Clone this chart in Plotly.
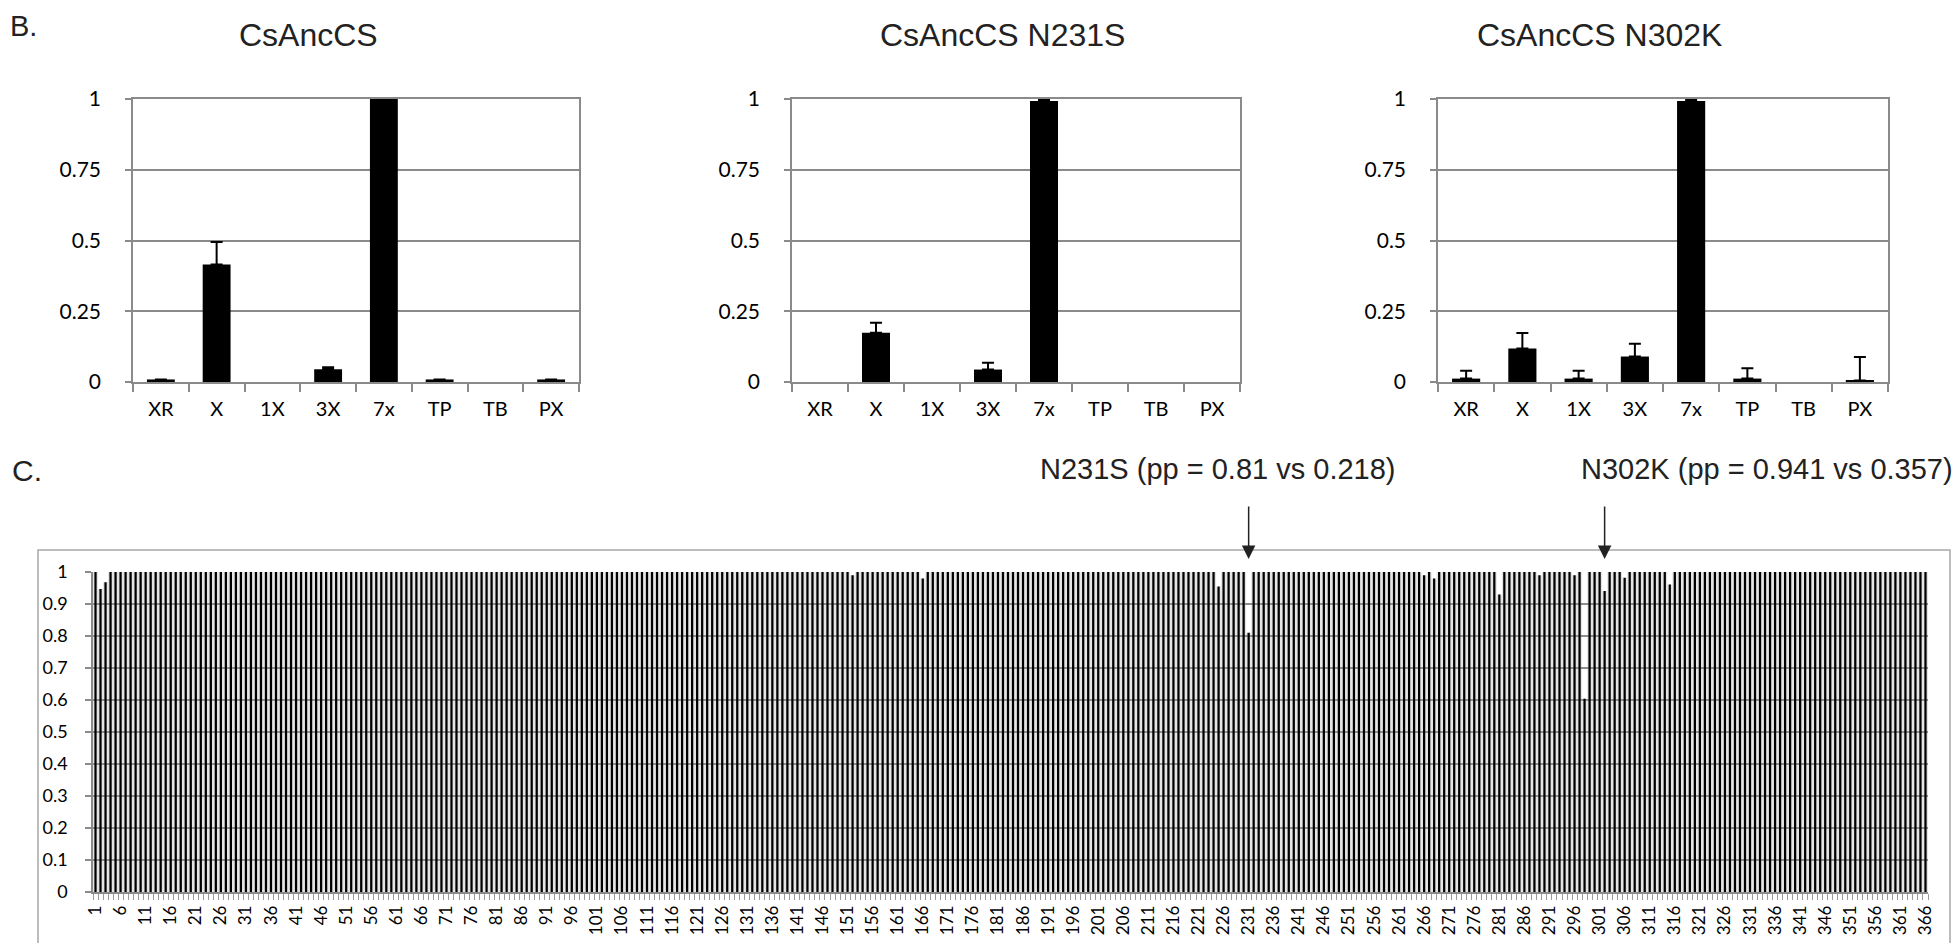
import plotly.graph_objects as go

# ---------------- Panel B data ----------------
categories = ["XR", "X", "1X", "3X", "7x", "TP", "TB", "PX"]

anccs_vals = [0.009, 0.415, 0.0, 0.045, 1.0, 0.009, 0.0, 0.009]
anccs_err = [0.0, 0.080, 0.0, 0.007, 0.0, 0.0, 0.0, 0.0]

n231s_vals = [0.0, 0.174, 0.0, 0.044, 0.993, 0.0, 0.0, 0.0]
n231s_err = [0.0, 0.035, 0.0, 0.024, 0.007, 0.0, 0.0, 0.0]

n302k_vals = [0.012, 0.118, 0.012, 0.090, 0.993, 0.012, 0.0, 0.005]
n302k_err = [0.028, 0.055, 0.028, 0.045, 0.007, 0.037, 0.0, 0.083]

panel_titles = ["CsAncCS", "CsAncCS N231S", "CsAncCS N302K"]
b_ticks = [0, 0.25, 0.5, 0.75, 1]
b_ticktext = ["0", "0.25", "0.5", "0.75", "1"]

# ---------------- Panel C data ----------------
positions = list(range(1, 367))
pp_values = [
    1, 0.947, 0.968, 1, 1, 1, 1, 1, 1, 1, 1, 1, 1, 1, 1, 1, 1, 1, 1, 1,          # 1-20
    1, 1, 1, 1, 1, 1, 1, 1, 1, 1, 1, 1, 1, 1, 1, 1, 1, 1, 1, 1,                  # 21-40
    1, 1, 1, 1, 1, 1, 1, 1, 1, 1, 1, 1, 1, 1, 1, 1, 1, 1, 1, 1,                  # 41-60
    1, 1, 1, 1, 1, 1, 1, 1, 1, 1, 1, 1, 1, 1, 1, 1, 1, 1, 1, 1,                  # 61-80
    1, 1, 1, 1, 1, 1, 1, 1, 1, 1, 1, 1, 1, 1, 1, 1, 1, 1, 1, 1,                  # 81-100
    1, 1, 1, 1, 1, 1, 1, 1, 1, 1, 1, 1, 1, 1, 1, 1, 1, 1, 1, 1,                  # 101-120
    1, 1, 1, 1, 1, 1, 1, 1, 1, 1, 1, 1, 1, 1, 1, 1, 1, 1, 1, 1,                  # 121-140
    1, 1, 1, 1, 1, 1, 1, 1, 1, 1, 1, 0.99, 1, 1, 1, 1, 1, 1, 1, 1,               # 141-160
    1, 1, 1, 1, 1, 0.98, 1, 1, 1, 1, 1, 1, 1, 1, 1, 1, 1, 1, 1, 1,               # 161-180
    1, 1, 1, 1, 1, 1, 1, 1, 1, 1, 1, 1, 1, 1, 1, 1, 1, 1, 1, 1,                  # 181-200
    1, 1, 1, 1, 1, 1, 1, 1, 1, 1, 1, 1, 1, 1, 1, 1, 1, 1, 1, 1,                  # 201-220
    1, 1, 1, 1, 0.955, 1, 1, 1, 1, 1, 0.81, 1, 1, 1, 1, 1, 1, 1, 1, 1,           # 221-240
    1, 1, 1, 1, 1, 1, 1, 1, 1, 1, 1, 1, 1, 1, 1, 1, 1, 1, 1, 1,                  # 241-260
    1, 1, 1, 1, 1, 0.99, 1, 0.98, 1, 1, 1, 1, 1, 1, 1, 1, 1, 1, 1, 1,            # 261-280
    0.93, 1, 1, 1, 1, 1, 1, 1, 0.99, 1, 1, 1, 1, 1, 1, 0.99, 1, 0.604, 1, 1,     # 281-300
    1, 0.941, 1, 1, 1, 0.982, 1, 1, 1, 1, 1, 1, 1, 1, 0.961, 1, 1, 1, 1, 1,      # 301-320
    1, 1, 1, 1, 1, 1, 1, 1, 1, 1, 1, 1, 1, 1, 1, 1, 1, 1, 1, 1,                  # 321-340
    1, 1, 1, 1, 1, 1, 1, 1, 1, 1, 1, 1, 1, 1, 1, 1, 1, 1, 1, 1,                  # 341-360
    1, 1, 1, 1, 1, 1,                                                            # 361-366
]
c_ticks = [i / 10 for i in range(11)]
c_ticktext = ["0", "0.1", "0.2", "0.3", "0.4", "0.5", "0.6", "0.7", "0.8", "0.9", "1"]
c_label_positions = positions[::5]

annot_texts = ["N231S (pp = 0.81 vs 0.218)", "N302K (pp = 0.941 vs 0.357)"]
annot_positions = [231, 302]

# ---------------- layout geometry (screen pixels) ----------------
# the page body adds an 8px offset, so the figure is 8px smaller and coords shifted
OFF = 8
W, H = 1960 - OFF, 943 - OFF
def px(x):
    return (x - OFF) / W
def py(y):
    return 1 - (y - OFF) / H

GRID = "#8a8a8a"
TICKFONT = "Lato"
TITLEFONT = "Liberation Sans"

fig = go.Figure()

b_domains = [(133, 579), (792, 1240), (1438, 1888)]
b_title_x = [308, 1002, 1599]
b_data = [(anccs_vals, anccs_err), (n231s_vals, n231s_err), (n302k_vals, n302k_err)]

for i, ((vals, err), (x0, x1)) in enumerate(zip(b_data, b_domains)):
    k = "" if i == 0 else str(i + 1)
    yv = [v if v > 0 else None for v in vals]
    plus = [e if e > 0 else None for e in err]
    minus = [0 if e > 0 else None for e in err]
    fig.add_trace(go.Bar(
        x=categories, y=yv, width=0.5,
        marker=dict(color="black", line=dict(width=0)),
        error_y=dict(type="data", symmetric=False, array=plus,
                     arrayminus=minus, color="black", thickness=2, width=6),
        xaxis="x" + k, yaxis="y" + k, showlegend=False,
    ))
    fig.layout["xaxis" + k] = dict(
        domain=[px(x0), px(x1)], anchor="y" + k, type="category", automargin=False,
        categoryorder="array", categoryarray=categories,
        showline=True, linecolor=GRID, linewidth=1.5, mirror=True,
        ticks="outside", tickson="boundaries", ticklen=8, tickcolor=GRID, tickwidth=1.5,
        showgrid=False, tickfont=dict(family=TICKFONT, size=20, color="black"),
        ticklabelstandoff=8, fixedrange=True,
    )
    fig.layout["yaxis" + k] = dict(
        domain=[py(382), py(99)], anchor="x" + k, range=[0, 1], automargin=False,
        tickvals=b_ticks, ticktext=b_ticktext,
        showline=True, linecolor=GRID, linewidth=1.5, mirror=True,
        ticks="outside", ticklen=6, tickcolor=GRID, tickwidth=1.5,
        showgrid=True, gridcolor=GRID, gridwidth=1.5, zeroline=False,
        tickfont=dict(family=TICKFONT, size=21, color="black"),
        ticklabelstandoff=20, fixedrange=True,
    )
    fig.add_annotation(text=panel_titles[i], xref="paper", yref="paper",
                       x=px(b_title_x[i]), y=py(35), xanchor="center", yanchor="middle",
                       showarrow=False, font=dict(family=TITLEFONT, size=32, color="#222"))

# ---------------- Panel C ----------------
fig.add_trace(go.Bar(
    x=positions, y=pp_values, width=1.0,
    marker=dict(color="rgba(160,160,160,0.28)", line=dict(width=0)),
    xaxis="x4", yaxis="y4", showlegend=False, hoverinfo="skip",
))
fig.add_trace(go.Bar(
    x=positions, y=pp_values, width=0.45,
    marker=dict(color="black", line=dict(width=0)),
    xaxis="x4", yaxis="y4", showlegend=False,
))
fig.update_layout(
    xaxis4=dict(
        domain=[px(93), px(1928)], anchor="y4", range=[0.5, 366.5], automargin=False,
        tickvals=c_label_positions, ticktext=[str(p) for p in c_label_positions],
        tickangle=-90, ticks="", showgrid=False, zeroline=False,
        showline=True, linecolor=GRID, linewidth=1.5,
        minor=dict(ticks="outside", tick0=0.5, dtick=1, ticklen=6,
                   tickcolor="#9a9a9a", tickwidth=1, showgrid=False),
        tickfont=dict(family=TICKFONT, size=17, color="black"),
        ticklabelstandoff=5, fixedrange=True,
    ),
    yaxis4=dict(
        domain=[py(892), py(572)], anchor="x4", range=[0, 1], automargin=False,
        tickvals=c_ticks, ticktext=c_ticktext,
        showline=True, linecolor=GRID, linewidth=1.5,
        ticks="outside", ticklen=6, tickcolor=GRID, tickwidth=1.5,
        showgrid=True, gridcolor=GRID, gridwidth=1.5, zeroline=False,
        tickfont=dict(family=TICKFONT, size=18, color="black"),
        ticklabelstandoff=14, fixedrange=True,
    ),
)

# frame around panel C
fig.add_shape(type="rect", xref="paper", yref="paper",
              x0=px(38), x1=px(1950), y0=py(960), y1=py(550),
              line=dict(color="#a8a8a8", width=1.5), fillcolor="rgba(0,0,0,0)", layer="below")

# panel letters
fig.add_annotation(text="B.", xref="paper", yref="paper", x=px(9), y=py(9),
                   xanchor="left", yanchor="top", showarrow=False, borderpad=0,
                   font=dict(family=TITLEFONT, size=29, color="#222"))
fig.add_annotation(text="C.", xref="paper", yref="paper", x=px(10), y=py(471),
                   xanchor="left", yanchor="middle", showarrow=False,
                   font=dict(family=TITLEFONT, size=30, color="#222"))

# mutation annotations with arrows
text_centers = [1217, 1767]
for txt, pos, cx in zip(annot_texts, annot_positions, text_centers):
    fig.add_annotation(text=txt, xref="paper", yref="paper", x=px(cx), y=py(469),
                       xanchor="center", yanchor="middle", showarrow=False,
                       font=dict(family=TITLEFONT, size=29, color="#222"))
    fig.add_annotation(text="", xref="x4", yref="paper", x=pos, y=py(559),
                       axref="pixel", ayref="pixel", ax=0, ay=-54,
                       showarrow=True, arrowhead=2, arrowsize=1.8, arrowwidth=1.5,
                       arrowcolor="#222", standoff=0)

fig.update_layout(
    width=W, height=H, autosize=False,
    margin=dict(l=0, r=0, t=0, b=0, autoexpand=False),
    paper_bgcolor="white", plot_bgcolor="white",
    barmode="overlay", showlegend=False,
)

fig.write_html("out.html")
